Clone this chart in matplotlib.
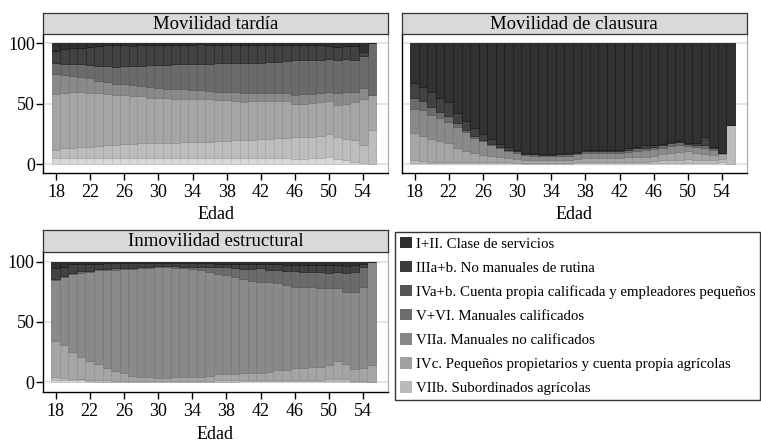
import numpy as np
import matplotlib.pyplot as plt
from matplotlib.patches import Patch

plt.rcParams['font.family'] = ['Liberation Serif', 'DejaVu Serif']

# edades (una barra por edad)
edad = np.arange(18, 56)

# etiquetas de clase (orden de la leyenda)
clases = ['I+II. Clase de servicios',
          'IIIa+b. No manuales de rutina',
          'IVa+b. Cuenta propia calificada y empleadores pequeños',
          'V+VI. Manuales calificados',
          'VIIa. Manuales no calificados',
          'IVc. Pequeños propietarios y cuenta propia agrícolas',
          'VIIb. Subordinados agrícolas']

# limites superiores acumulados (%) de cada clase, de abajo hacia arriba
# Movilidad tardia
tar_viib = [5, 5, 5, 5, 5, 5, 5, 5, 5, 5, 5, 5, 5, 5, 5, 5, 5, 5, 5, 5,
            5, 5, 5, 5, 5, 5, 5, 5, 4, 4, 5, 5, 6, 4, 3, 2, 1, 0]
tar_ivc = [12, 13, 13.5, 14, 14.5, 15, 15.5, 16, 16.5, 16.5, 17, 17, 17.5, 17.5, 17.5, 18, 18, 18.5, 18.5, 19,
           19, 19.5, 20, 20, 20.5, 21, 21.5, 21.5, 22.5, 22, 22, 23, 25, 22, 21, 19.5, 16, 28]
tar_viia = [58, 59, 59.5, 59.5, 59, 58.5, 58, 57, 57, 56.5, 56, 55, 54.5, 54.5, 54, 54, 54, 54, 53.5, 53,
            53, 52.5, 51.5, 52, 52, 52.5, 52.5, 52, 50, 50, 50.5, 51, 52, 49, 49.5, 51, 53.5, 57]
tar_vvi = [75, 74, 73, 72.5, 71, 69, 68, 66.5, 66, 65.5, 64.5, 63.5, 63, 62.5, 62, 62, 61.5, 61, 60.5, 60,
           60, 59.5, 58.5, 58.5, 58.5, 59, 59, 59, 57.5, 58, 58, 59, 59.5, 59, 59.5, 60, 63, 57]
tar_ivab = [83.5, 83, 82.5, 82.5, 82, 81.5, 81, 80.5, 81, 81.5, 81.5, 82, 82, 82, 82.5, 83, 83, 83, 83, 83.5,
            83.5, 83.5, 83.5, 84, 84, 84.5, 84.5, 85, 86, 86, 86, 86.5, 87, 86.5, 87, 86, 89.5, 100]
tar_iiiab = [94, 95, 96.5, 96, 97, 98, 98.5, 98.5, 99, 98, 99, 99, 99, 99, 99, 99, 99, 99.5, 99, 98.5,
             99, 99, 99, 99, 98.5, 98.5, 99, 99, 98.5, 99, 99, 99, 97.5, 97, 97.5, 98, 93, 100]

# Movilidad de clausura
cla_viib = [1, 1, 0.5, 0.5, 0.5, 0.5, 0.5, 0.5, 0.5, 0.5, 0.5, 0.5, 0.5, 0, 0, 0, 0, 0, 0, 0.5,
            0.5, 0.5, 0.5, 0.5, 0.5, 0.5, 0.5, 0.5, 0.5, 1, 1, 1, 1, 1, 1, 1, 2, 0]
cla_ivc = [3, 2.5, 2, 2, 1.5, 1.5, 1.5, 1.5, 1.5, 1.5, 1.5, 1.5, 1, 1, 1, 1, 1, 1, 1, 1.5,
           1.5, 1.5, 1.5, 1.5, 1.5, 2, 2, 2, 2.5, 3, 3, 3.5, 4, 3.5, 3, 3, 4, 32]
cla_viia = [26, 23, 21, 19, 17.5, 13.5, 10.5, 9, 7.5, 6.5, 5.5, 5, 4.5, 3.5, 3, 3, 3, 3, 3.5, 4.5,
            5, 5, 5, 5, 5, 5.5, 6, 6, 7, 8, 9, 10, 10.5, 9.5, 8.5, 7.5, 8, 32]
cla_vvi = [46, 45, 41, 38, 35, 31, 26.5, 21.5, 19, 15.5, 13, 11, 9, 7.5, 7, 6.5, 6.5, 7, 7, 8,
           9, 9, 9, 9, 9.5, 10, 11, 11.5, 12.5, 13.5, 15, 16, 15, 14, 13, 11.5, 9, 32]
cla_ivab = [55, 52, 47, 43.5, 40, 34, 28.5, 23, 20, 16.5, 14, 12, 10.5, 8.5, 8, 7.5, 7.5, 8, 8.5, 9.5,
            10.5, 10.5, 11, 11, 11, 12, 13, 13.5, 14.5, 15.5, 17, 18, 16.5, 15.5, 15.5, 13, 9, 32]
cla_iiiab = [67, 64, 59.5, 55, 51, 42, 36, 30, 24.5, 21, 16.5, 14.5, 12, 9, 8.5, 8, 8, 8.5, 9, 10,
             12, 12, 12, 12, 11.5, 13.5, 14.5, 15.5, 16, 16.5, 18, 19, 17.5, 17, 22, 14.5, 9, 32]

# Inmovilidad estructural
inm_viib = [2, 2, 1.5, 1.5, 1, 0.5, 0.5, 0.5, 0.5, 0.5, 0.5, 0.5, 0.5, 0.5, 0.5, 0.5, 0.5, 0.5, 0.5, 0.5,
            0.5, 0.5, 1, 1, 1, 1, 1, 1, 1, 1, 1, 1, 1, 1, 1, 0, 0, 0]
inm_ivc = [4, 3.5, 3, 2.5, 2, 1.5, 1.5, 1, 1, 1, 1, 1, 1, 1, 1, 1, 1, 1, 1, 1.5,
           1.5, 1.5, 2, 2, 2, 2, 2, 2, 2, 2, 2, 2, 2.5, 2.5, 2.5, 1, 1, 0]
inm_viia = [34, 31, 25, 21, 17.5, 15, 12, 9.5, 7.5, 5.5, 4.5, 4, 3.5, 3.5, 4, 4, 4, 4.5, 5, 6.5,
            7, 7, 8, 8, 8, 8.5, 10, 10.5, 11.5, 12, 13, 12.5, 14.5, 17.5, 15.5, 11, 12, 14]
inm_vvi = [85, 87.5, 90, 91, 91.5, 93, 93, 93.5, 94, 94, 94.5, 95, 95.5, 95.5, 95, 94.5, 94, 93, 91.5, 89.5,
           89, 87.5, 85.5, 84, 83.5, 83, 82, 81, 79, 79, 79, 78, 78, 78, 75, 75, 79, 100]
inm_ivab = [85.5, 88, 91, 92, 92.5, 94, 94, 94.5, 95, 95, 95.5, 96, 96.5, 96.5, 96.5, 96, 96, 96, 96, 95.8,
            95.3, 94.4, 93.9, 93.9, 94.4, 93.1, 93.1, 92.2, 92.2, 91.7, 91.1, 91.1, 90.3, 91.7, 90.3, 91.7, 95.8, 100]
inm_iiiab = [95, 95.5, 98, 98, 98.5, 98.5, 99, 99, 99, 99, 99, 99, 99, 99, 99, 99, 99, 99, 99, 98.5,
             98.5, 98.5, 98, 98, 98.5, 98, 98, 97.5, 97.5, 97, 97, 97, 97, 97.5, 96.5, 97, 98, 100]

# colores: barras de abajo (VIIb) hacia arriba (I+II)
col_barra = ['#d8d8d8', '#bdbdbd', '#a5a5a5', '#8a8a8a', '#6b6b6b', '#424242', '#313131']
col_borde = ['#c4c4c4', '#a9a9a9', '#939393', '#7a7a7a', '#5c5c5c', '#2c2c2c', '#1e1e1e']
# colores de la leyenda (orden de la leyenda)
col_leyenda = ['#303030', '#3c3c3c', '#555555', '#6c6c6c', '#868686', '#a0a0a0', '#bababa']

W, H = 761, 445
fig = plt.figure(figsize=(W / 100, H / 100), dpi=100)


def caja(x0, x1, y0, y1):
    # pixeles -> fraccion de figura
    return [x0 / W, 1 - y1 / H, (x1 - x0) / W, (y1 - y0) / H]


def panel(pos, tira, titulo, cortes, ylim, etiq_y):
    ax = fig.add_axes(caja(*pos))
    bordes = [np.zeros(len(edad))] + [np.array(c, float) for c in cortes] + [np.full(len(edad), 100.0)]
    for i in range(7):
        ax.bar(edad, bordes[i + 1] - bordes[i], bottom=bordes[i], width=1.0,
               color=col_barra[i], edgecolor=col_borde[i], linewidth=0.6, zorder=2)
    ax.set_xlim(16.5, 56.9)
    ax.set_ylim(*ylim)
    ax.set_yticks([0, 50, 100])
    ax.yaxis.grid(True, color='#e3e3e3', linewidth=1.3, zorder=0)
    ax.set_axisbelow(True)
    ax.set_xticks(np.arange(18, 55, 4))
    ax.tick_params(axis='x', length=5, width=1, pad=3, labelsize=13)
    if etiq_y:
        ax.tick_params(axis='y', length=5, width=1, pad=1, labelsize=13)
    else:
        ax.tick_params(axis='y', length=0, labelleft=False)
    ax.set_xlabel('Edad', fontsize=13, labelpad=4)
    ax.spines['top'].set_visible(False)
    ax.spines['right'].set_color('#a8a8a8')
    for s in ['left', 'bottom']:
        ax.spines[s].set_linewidth(1)

    at = fig.add_axes(caja(*tira))
    at.set_facecolor('#d9d9d9')
    at.set_xticks([])
    at.set_yticks([])
    for s in at.spines.values():
        s.set_linewidth(0.9)
        s.set_color('#333333')
    at.text(0.5, 0.45, titulo, ha='center', va='center', fontsize=13.5, transform=at.transAxes)
    return ax


panel((43.3, 388, 34.3, 172.7), (43.3, 388, 12.7, 34.3), 'Movilidad tardía',
      [tar_viib, tar_ivc, tar_viia, tar_vvi, tar_ivab, tar_iiiab], (-7.2, 107.5), True)
panel((401.7, 747, 34.3, 172.7), (401.7, 747, 12.7, 34.3), 'Movilidad de clausura',
      [cla_viib, cla_ivc, cla_viia, cla_vvi, cla_ivab, cla_iiiab], (-7.2, 107.5), False)
panel((42.7, 388, 251.7, 392.3), (42.7, 388, 230, 251.7), 'Inmovilidad estructural',
      [inm_viib, inm_ivc, inm_viia, inm_vvi, inm_ivab, inm_iiiab], (-8.4, 108.3), True)

manijas = [Patch(facecolor=c, edgecolor='none') for c in col_leyenda]
ley = fig.legend(manijas, clases, loc='upper left', bbox_to_anchor=(395 / W, 1 - 232 / H),
                 borderaxespad=0, fontsize=10.7, frameon=True, fancybox=False,
                 handlelength=0.8, handleheight=0.8, handletextpad=0.3,
                 labelspacing=0.69, borderpad=0.32)
ley.get_frame().set_edgecolor('black')
ley.get_frame().set_linewidth(1.0)

fig.savefig('out.png', dpi=100, facecolor='white')
